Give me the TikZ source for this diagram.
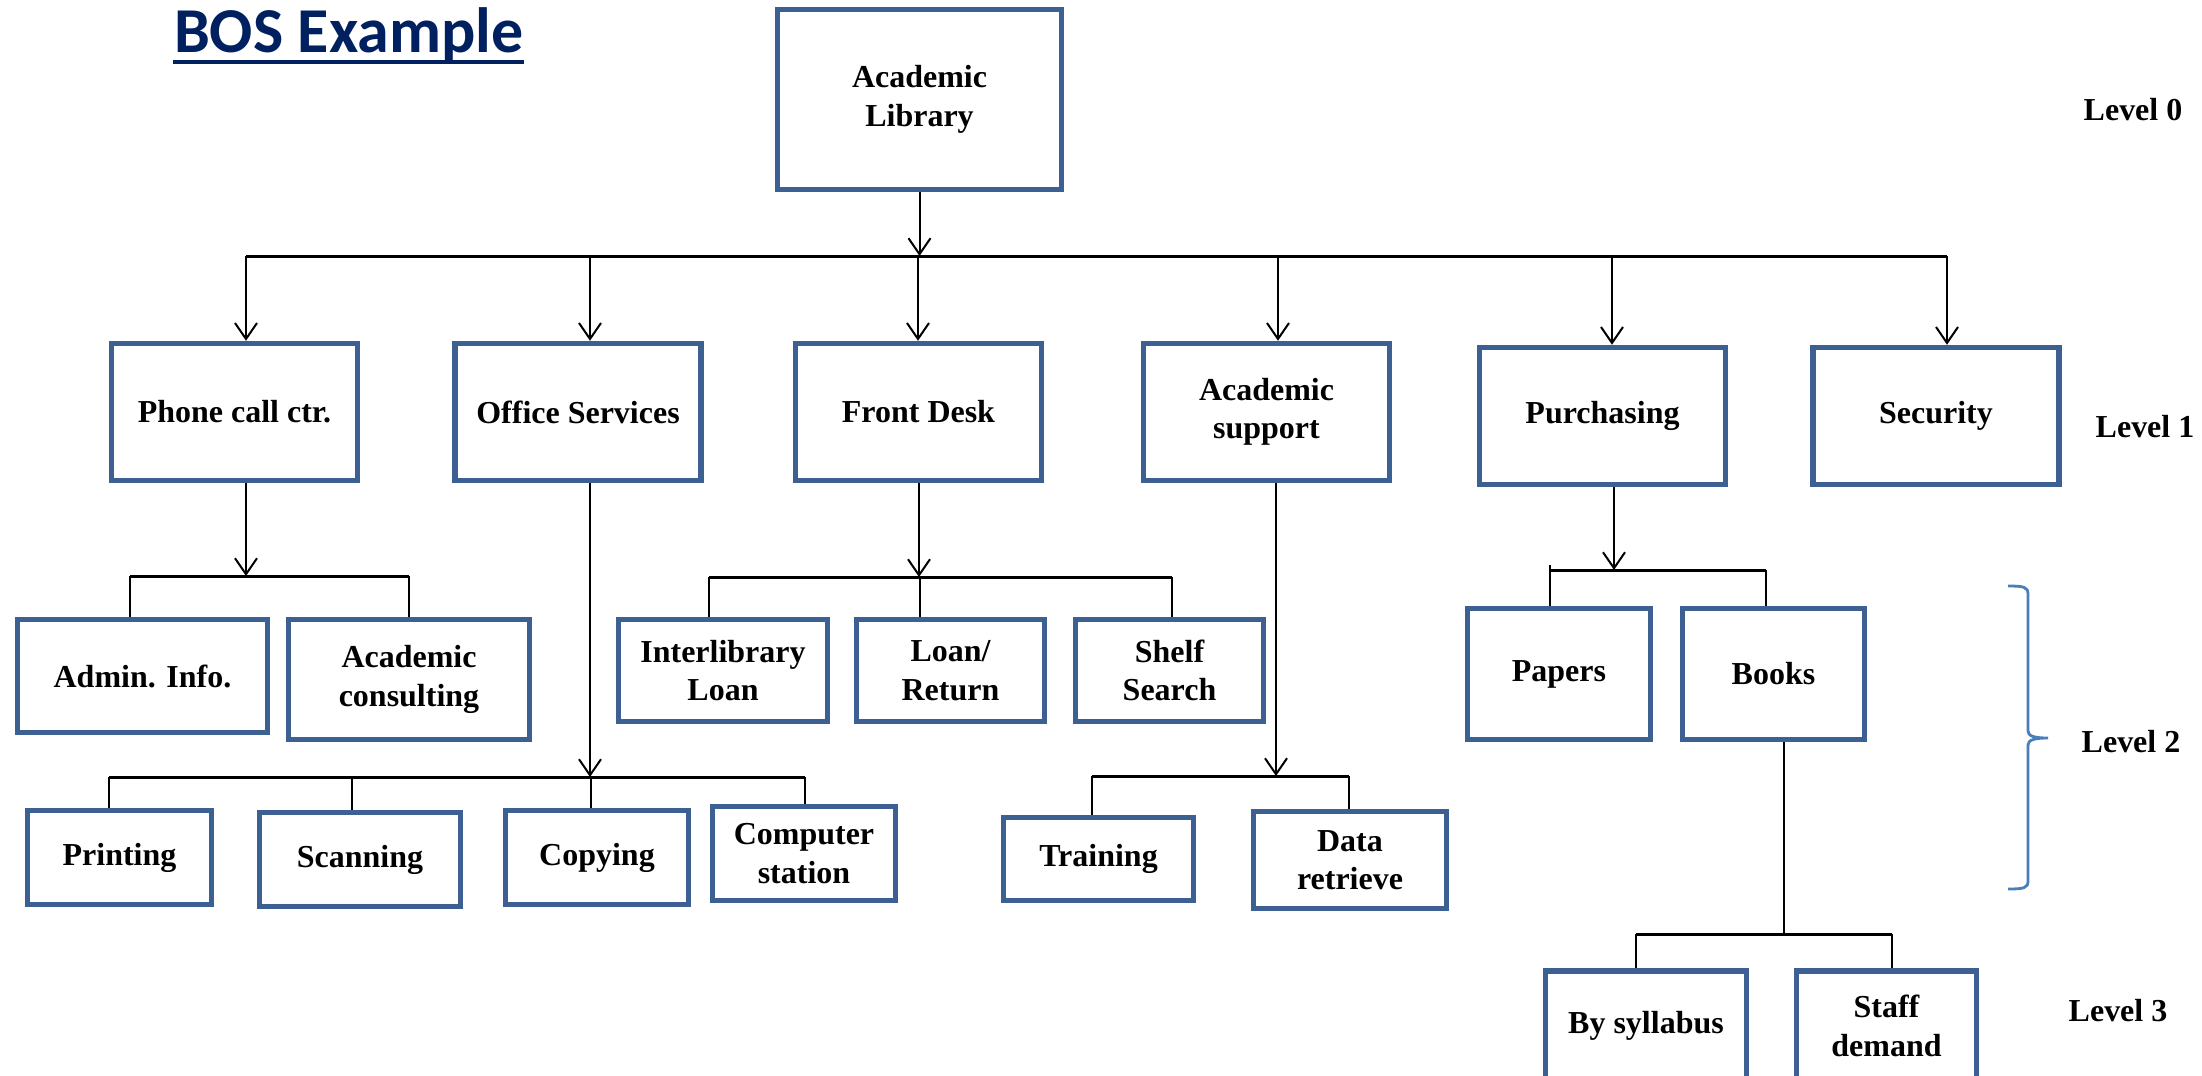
\documentclass[tikz,border=0pt]{standalone}
\usepackage{fontspec}
\setmainfont{Liberation Serif}
\newfontfamily\headfont{Carlito}
\usetikzlibrary{arrows.meta}
\definecolor{ink}{HTML}{000000}
\definecolor{boxblue}{HTML}{3B6091}
\definecolor{brblue}{HTML}{4A7EBB}
\definecolor{ttlnavy}{HTML}{002060}
\tikzset{
  >={Straight Barb[length=1.6mm,width=2.2mm]},
  every picture/.style={line width=0.2mm,draw=ink,font=\bfseries\fontsize{9.1}{10.9}\selectfont},
  bx/.style={draw=boxblue,line width=0.55mm,fill=white,align=center,inner sep=1pt},
  lvone/.style={bx,minimum width=24.6mm,minimum height=13.7mm},
  arr/.style={->,draw=ink},
  bus/.style={draw=ink,line width=0.3mm},
  brc/.style={draw=brblue,line width=0.28mm},
  lvl/.style={font=\bfseries\fontsize{9.1}{10.9}\selectfont},
}
\begin{document}
\begin{tikzpicture}[x=0.1mm,y=-0.1mm]
  \useasboundingbox (0,0) rectangle (2202,1075);
  \node[anchor=base west,inner sep=0,text=ttlnavy,font=\headfont\bfseries\fontsize{18.2}{20}\selectfont] (title) at (173,52) {BOS Example};
  \fill[ttlnavy] ([yshift=-0.8mm]title.base west) rectangle ([yshift=-1.2mm]title.base east);

  \node[bx,minimum width=28.4mm,minimum height=18mm] (lib) at (919.5,99.5) {Academic\\Library};
  \node[lvone] (phone) at (234.5,412) {Phone call ctr.};
  \node[lvone] (office) at (578,412) {Office Services};
  \node[lvone] (front) at (918.5,412) {Front Desk};
  \node[lvone] (acsup) at (1266.5,412) {Academic\\support};
  \node[lvone] (purch) at (1602.5,416) {Purchasing};
  \node[lvone] (secur) at (1936,416) {Security};

  \node[bx,minimum width=25mm,minimum height=11.3mm] (admin) at (142.5,676) {Admin. Info.};
  \node[bx,minimum width=24.1mm,minimum height=12mm] (acons) at (409,679.5) {Academic\\consulting};
  \node[bx,minimum width=20.9mm,minimum height=10.2mm] (inter) at (723,670.5) {Interlibrary\\Loan};
  \node[bx,minimum width=18.8mm,minimum height=10.2mm] (loan) at (950.5,670.5) {Loan/\\Return};
  \node[bx,minimum width=18.8mm,minimum height=10.2mm] (shelf) at (1169.5,670.5) {Shelf\\Search};
  \node[bx,minimum width=18.3mm,minimum height=13.1mm] (papers) at (1559,674) {Papers};
  \node[bx,minimum width=18.2mm,minimum height=13.1mm] (books) at (1773.5,674) {Books};

  \node[bx,minimum width=18.4mm,minimum height=9.4mm] (print) at (119.5,857.5) {Printing};
  \node[bx,minimum width=20.1mm,minimum height=9.4mm] (scan) at (360,859.5) {Scanning};
  \node[bx,minimum width=18.3mm,minimum height=9.4mm] (copy) at (597,857.5) {Copying};
  \node[bx,minimum width=18.3mm,minimum height=9.4mm] (comp) at (804,853.5) {Computer\\station};
  \node[bx,minimum width=19mm,minimum height=8.3mm] (train) at (1098.5,859) {Training};
  \node[bx,minimum width=19.3mm,minimum height=9.7mm] (data) at (1350,860) {Data\\retrieve};

  \node[bx,minimum width=20.1mm,minimum height=11mm] (bysyl) at (1646,1026) {By syllabus};
  \node[bx,minimum width=18mm,minimum height=11mm] (staff) at (1886.5,1026) {Staff\\demand};

  \coordinate (b1) at (246,256); \coordinate (b2) at (590,256); \coordinate (b3) at (918,256);
  \coordinate (b4) at (1278,256); \coordinate (b5) at (1612,256); \coordinate (b6) at (1947,256);
  \draw[bus] (b1) -- (b6);
  \draw[arr] (lib.south) -- (lib.south |- b1);
  \foreach \c/\n in {b1/phone,b2/office,b3/front,b4/acsup,b5/purch,b6/secur}
    \draw[arr] (\c) -- (\c |- \n.north);

  \coordinate (p0) at (246,576); \coordinate (p1) at (130,576); \coordinate (p2) at (409,576);
  \draw[arr] (p0 |- phone.south) -- (p0);
  \draw[bus] (p1) -- (p2);
  \foreach \c/\n in {p1/admin,p2/acons}
    \draw (\c) -- (\c |- \n.north);

  \coordinate (o0) at (590,777); \coordinate (o1) at (109,777); \coordinate (o2) at (352,777);
  \coordinate (o3) at (591,777); \coordinate (o4) at (805,777);
  \draw[arr] (o0 |- office.south) -- (o0);
  \draw[bus] (o1) -- (o4);
  \foreach \c/\n in {o1/print,o2/scan,o3/copy,o4/comp}
    \draw (\c) -- (\c |- \n.north);

  \coordinate (f0) at (919,577); \coordinate (f1) at (709,577); \coordinate (f2) at (920,577);
  \coordinate (f3) at (1172,577);
  \draw[arr] (f0 |- front.south) -- (f0);
  \draw[bus] (f1) -- (f3);
  \foreach \c/\n in {f1/inter,f2/loan,f3/shelf}
    \draw (\c) -- (\c |- \n.north);

  \coordinate (a0) at (1276,776); \coordinate (a1) at (1092,776); \coordinate (a2) at (1349,776);
  \draw[arr] (a0 |- acsup.south) -- (a0);
  \draw[bus] (a1) -- (a2);
  \foreach \c/\n in {a1/train,a2/data}
    \draw (\c) -- (\c |- \n.north);

  \coordinate (u0) at (1614,570); \coordinate (u1) at (1550,570); \coordinate (u2) at (1766,570);
  \draw[arr] (u0 |- purch.south) -- (u0);
  \draw[bus] (u1) -- (u2);
  \draw ([yshift=0.5mm]u1) -- (u1 |- papers.north);
  \draw (u2) -- (u2 |- books.north);

  \coordinate (k0) at (1784,934); \coordinate (k1) at (1636,934); \coordinate (k2) at (1892,934);
  \draw (k0 |- books.south) -- (k0);
  \draw[bus] (k1) -- (k2);
  \foreach \c/\n in {k1/bysyl,k2/staff}
    \draw (\c) -- (\c |- \n.north);

  \draw[brc] (2008,586) .. controls (2024,586) and (2028,587) .. (2028,594) -- (2028,731)
    .. controls (2028,736) and (2034,738) .. (2048,738)
    .. controls (2034,738) and (2028,740) .. (2028,745) -- (2028,881)
    .. controls (2028,888) and (2024,889) .. (2008,889);

  \node[lvl] (l0) at (2133,110) {Level 0};
  \node[lvl] (l1) at (2145,427) {Level 1};
  \node[lvl] (l2) at (2131,742) {Level 2};
  \node[lvl] (l3) at (2118,1011) {Level 3};
\end{tikzpicture}
\end{document}
